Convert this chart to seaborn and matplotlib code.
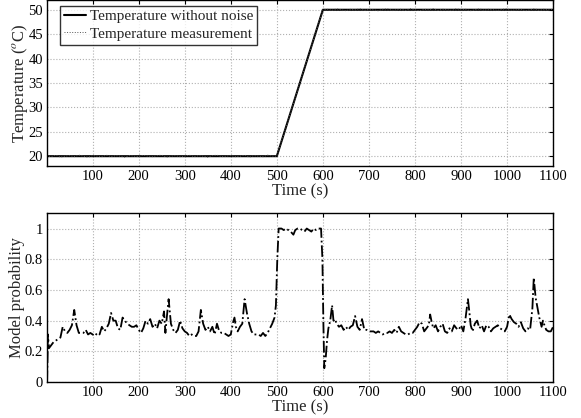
import numpy as np
import pandas as pd
import seaborn as sns
import matplotlib
matplotlib.use("Agg")
import matplotlib.pyplot as plt

# temperature without noise (piecewise)
temp_time = [1, 500, 600, 1100]
temp_true = [20, 20, 50, 50]

# temperature measurement, read every 10 s
meas_time = list(range(0, 1101, 10))
meas_value = [
    20.1, 19.9, 20.2, 19.8, 20.0, 20.1, 19.9, 20.2, 20.0, 19.8,
    20.1, 20.0, 19.9, 20.2, 19.9, 20.1, 20.0, 19.8, 20.1, 20.0,
    19.9, 20.2, 20.0, 19.9, 20.1, 20.2, 19.8, 20.0, 20.1, 19.9,
    20.0, 20.2, 19.9, 20.1, 20.0, 19.8, 20.1, 20.2, 19.9, 20.0,
    20.1, 19.9, 20.0, 20.2, 19.8, 20.1, 20.0, 19.9, 20.2, 20.0,
    20.0, 23.1, 25.9, 29.1, 31.9, 35.0, 38.1, 40.9, 44.0, 47.1,
    50.0, 50.1, 49.9, 50.2, 50.0, 49.8, 50.1, 50.0, 50.2, 49.9,
    50.1, 50.0, 49.8, 50.1, 50.2, 49.9, 50.0, 50.1, 49.9, 50.2,
    50.0, 49.8, 50.1, 50.0, 50.2, 49.9, 50.1, 50.0, 49.9, 50.2,
    50.0, 50.1, 49.8, 50.0, 50.2, 49.9, 50.1, 50.0, 49.9, 50.1,
    50.2, 49.9, 50.0, 50.1, 49.8, 50.0, 50.2, 49.9, 50.1, 50.0,
    50.1,
]

# model probability
prob_time = [
    1, 3, 5, 10, 15, 20, 25, 30, 35, 40, 45, 50, 55, 60, 65, 70, 75, 80, 85, 90,
    95, 100, 105, 110, 115, 120, 125, 130, 135, 140, 145, 150, 155, 160, 165, 170,
    175, 180, 185, 190, 195, 200, 205, 210, 215, 220, 225, 230, 235, 240, 245, 250,
    255, 258, 261, 265, 270, 275, 280, 285, 290, 295, 300, 305, 310, 315, 320, 325,
    330, 335, 340, 345, 350, 355, 360, 365, 370, 375, 380, 385, 390, 395, 400, 405,
    408, 411, 415, 420, 425, 430, 435, 440, 445, 450, 455, 460, 465, 470, 475, 480,
    485, 490, 495, 498, 501, 504, 510, 515, 520, 525, 530, 536, 540, 545, 550, 555,
    560, 565, 570, 575, 580, 585, 590, 596, 599, 601, 603, 606, 609, 612, 616, 620,
    623, 626, 630, 635, 640, 645, 650, 655, 660, 665, 670, 675, 680, 685, 690, 695,
    700, 705, 710, 715, 720, 725, 730, 735, 740, 745, 750, 755, 760, 765, 770, 775,
    780, 785, 790, 795, 800, 805, 810, 815, 820, 825, 830, 833, 837, 840, 845, 850,
    855, 860, 865, 870, 875, 880, 885, 890, 895, 900, 905, 910, 915, 918, 921, 925,
    930, 935, 940, 945, 950, 955, 960, 965, 970, 975, 980, 985, 990, 995, 1000, 1005,
    1010, 1015, 1020, 1025, 1030, 1035, 1040, 1045, 1050, 1055, 1058, 1062, 1065, 1070,
    1075, 1078, 1080, 1085, 1090, 1095, 1100,
]
prob_value = [
    0.00, 0.31, 0.22, 0.24, 0.26, 0.27, 0.28, 0.29, 0.36, 0.33, 0.32, 0.34, 0.37, 0.47, 0.37, 0.32, 0.32, 0.32, 0.34, 0.31,
    0.32, 0.31, 0.30, 0.32, 0.31, 0.36, 0.33, 0.35, 0.38, 0.45, 0.40, 0.40, 0.35, 0.34, 0.42, 0.40,
    0.38, 0.37, 0.36, 0.36, 0.37, 0.34, 0.32, 0.35, 0.40, 0.38, 0.41, 0.36, 0.38, 0.35, 0.40, 0.38,
    0.46, 0.32, 0.42, 0.54, 0.38, 0.34, 0.32, 0.34, 0.40, 0.35, 0.33, 0.32, 0.30, 0.31, 0.30, 0.30,
    0.33, 0.47, 0.38, 0.34, 0.36, 0.33, 0.36, 0.31, 0.38, 0.33, 0.32, 0.32, 0.31, 0.30, 0.31, 0.39,
    0.42, 0.36, 0.33, 0.36, 0.38, 0.54, 0.45, 0.38, 0.33, 0.31, 0.31, 0.31, 0.30, 0.32, 0.30, 0.32,
    0.35, 0.38, 0.42, 0.50, 0.80, 1.00, 1.00, 0.99, 1.00, 0.99, 0.98, 0.96, 0.99, 1.00, 1.00, 0.99,
    0.98, 1.00, 0.99, 0.98, 1.00, 0.99, 1.00, 1.00, 0.80, 0.40, 0.09, 0.15, 0.27, 0.35, 0.40, 0.50,
    0.40, 0.41, 0.38, 0.36, 0.37, 0.34, 0.36, 0.34, 0.36, 0.37, 0.43, 0.36, 0.34, 0.41, 0.34, 0.34,
    0.33, 0.33, 0.33, 0.32, 0.33, 0.32, 0.31, 0.32, 0.32, 0.33, 0.32, 0.34, 0.32, 0.36, 0.33, 0.32,
    0.31, 0.31, 0.32, 0.32, 0.34, 0.36, 0.39, 0.38, 0.33, 0.35, 0.37, 0.44, 0.38, 0.35, 0.37, 0.33,
    0.36, 0.38, 0.33, 0.32, 0.35, 0.33, 0.37, 0.35, 0.34, 0.37, 0.33, 0.42, 0.54, 0.46, 0.37, 0.33,
    0.38, 0.40, 0.35, 0.37, 0.33, 0.37, 0.36, 0.33, 0.35, 0.36, 0.37, 0.35, 0.34, 0.33, 0.36, 0.44,
    0.41, 0.39, 0.38, 0.36, 0.39, 0.35, 0.33, 0.35, 0.34, 0.48, 0.68, 0.55, 0.50, 0.42,
    0.36, 0.40, 0.38, 0.34, 0.33, 0.33, 0.36,
]

x_ticks = list(range(100, 1101, 100))
temp_ticks = [20, 25, 30, 35, 40, 45, 50]
prob_ticks = [0, 0.2, 0.4, 0.6, 0.8, 1]
prob_ticklabels = ["0", "0.2", "0.4", "0.6", "0.8", "1"]

sns.set_theme(style="white")
plt.rcParams['font.family'] = ['Liberation Serif', 'DejaVu Serif']
plt.rcParams['mathtext.fontset'] = 'stix'

fig = plt.figure(figsize=(5.81, 4.18), dpi=100)
ax1 = fig.add_axes([0.081, 0.603, 0.871, 0.397])
ax2 = fig.add_axes([0.081, 0.086, 0.871, 0.404])

# --- top: temperature
sns.lineplot(x=temp_time, y=temp_true, ax=ax1, color='black', linewidth=1.5,
             estimator=None, sort=False, label='Temperature without noise')
sns.lineplot(x=meas_time, y=meas_value, ax=ax1, color='#555555', linewidth=0.7,
             linestyle=':', estimator=None, sort=False, label='Temperature measurement')
ax1.set_xlim(1, 1100)
ax1.set_ylim(18, 52)
ax1.set_yticks(temp_ticks)
ax1.set_ylabel(r'Temperature ($^o$C)', fontsize=12, labelpad=-1)
ax1.set_xlabel('Time (s)', fontsize=12, labelpad=0)
leg = ax1.legend(loc='upper left', bbox_to_anchor=(0.025, 0.965), fontsize=11,
                 frameon=True, fancybox=False, handlelength=1.5, handletextpad=0.2,
                 borderpad=0.25, labelspacing=0.25, borderaxespad=0)
leg.get_frame().set_edgecolor('black')
leg.get_frame().set_linewidth(1.0)

# --- bottom: model probability
sns.lineplot(x=prob_time, y=prob_value, ax=ax2, color='black', linewidth=1.3,
             linestyle='-.', estimator=None, sort=False)
ax2.set_xlim(1, 1100)
ax2.set_ylim(0, 1.1)
ax2.set_yticks(prob_ticks)
ax2.set_yticklabels(prob_ticklabels)
ax2.set_ylabel('Model probability', fontsize=12, labelpad=0)
ax2.set_xlabel('Time (s)', fontsize=12, labelpad=0)

for ax in (ax1, ax2):
    ax.set_xticks(x_ticks)
    ax.grid(True, color='#b0b0b0', linestyle=':', linewidth=0.8)
    ax.tick_params(direction='in', top=True, right=True, length=3, width=0.8,
                   labelsize=10.5, pad=3, colors='black')
    for s in ax.spines.values():
        s.set_visible(True)
        s.set_color('black')
        s.set_linewidth(1.0)

fig.savefig('out.png', dpi=100, facecolor='white')
